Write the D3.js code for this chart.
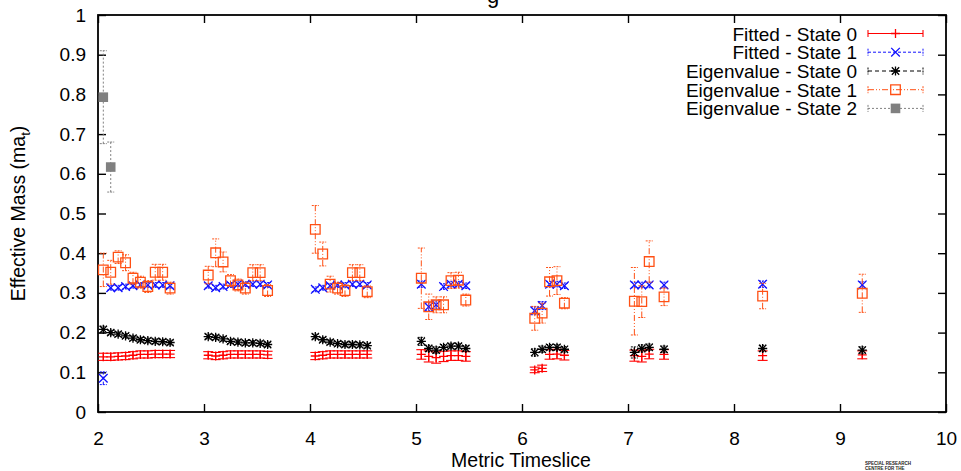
<!DOCTYPE html>
<html>
<head>
<meta charset="utf-8">
<script src="https://cdn.jsdelivr.net/npm/d3@7"></script>
<style>
  body { margin: 0; background: #fff; }
  svg { display: block; font-family: "Liberation Sans", Arial, Helvetica, sans-serif; }
</style>
</head>
<body>
<svg id="chart" width="961" height="471"></svg>
<script>
// Axis ticks
const xTicks = [2, 3, 4, 5, 6, 7, 8, 9, 10];
const yTicks = [0, 0.1, 0.2, 0.3, 0.4, 0.5, 0.6, 0.7, 0.8, 0.9, 1];

// Timeslice positions shared by the four main series (fit windows offset within each t)
const tsMain = [
  2.05, 2.12, 2.19, 2.26, 2.33, 2.40, 2.47, 2.54, 2.61, 2.68,
  3.04, 3.11, 3.18, 3.25, 3.32, 3.39, 3.46, 3.53, 3.60,
  4.05, 4.12, 4.19, 4.26, 4.33, 4.40, 4.47, 4.54,
  5.05, 5.12, 5.19, 5.26, 5.33, 5.40, 5.47,
  6.12, 6.19, 6.26, 6.33, 6.40,
  7.06, 7.13, 7.20, 7.34,
  8.27,
  9.21
];

// Fitted - State 0
const fit0Mass = [
  0.139, 0.139, 0.140, 0.141, 0.143, 0.145, 0.145, 0.146, 0.146, 0.146,
  0.143, 0.141, 0.143, 0.145, 0.145, 0.145, 0.145, 0.145, 0.144,
  0.141, 0.143, 0.145, 0.145, 0.145, 0.145, 0.145, 0.145,
  0.145, 0.140, 0.137, 0.140, 0.142, 0.142, 0.140,
  0.106, 0.110, 0.145, 0.146, 0.143,
  0.142, 0.140, 0.146, 0.145,
  0.142,
  0.144
];
const fit0Err = [
  0.009, 0.009, 0.009, 0.009, 0.009, 0.009, 0.009, 0.009, 0.009, 0.009,
  0.009, 0.009, 0.009, 0.009, 0.009, 0.009, 0.009, 0.009, 0.009,
  0.009, 0.009, 0.009, 0.009, 0.009, 0.009, 0.009, 0.009,
  0.012, 0.014, 0.014, 0.013, 0.012, 0.012, 0.012,
  0.007, 0.008, 0.012, 0.012, 0.012,
  0.014, 0.014, 0.012, 0.012,
  0.012,
  0.010
];

// Fitted - State 1
const fit1Mass = [
  0.085, 0.313, 0.313, 0.316, 0.318, 0.320, 0.320, 0.320, 0.320, 0.318,
  0.318, 0.313, 0.316, 0.320, 0.322, 0.322, 0.322, 0.322, 0.320,
  0.309, 0.313, 0.318, 0.320, 0.320, 0.322, 0.322, 0.320,
  0.322, 0.265, 0.270, 0.316, 0.322, 0.322, 0.318,
  0.255, 0.268, 0.322, 0.322, 0.318,
  0.320, 0.320, 0.320, 0.320,
  0.322,
  0.320
];
const fit1Err = [
  0.016, 0.006, 0.006, 0.006, 0.006, 0.006, 0.006, 0.006, 0.006, 0.006,
  0.006, 0.006, 0.006, 0.006, 0.006, 0.006, 0.006, 0.006, 0.006,
  0.006, 0.006, 0.006, 0.006, 0.006, 0.006, 0.006, 0.006,
  0.008, 0.010, 0.010, 0.007, 0.007, 0.007, 0.007,
  0.010, 0.010, 0.007, 0.007, 0.007,
  0.007, 0.007, 0.007, 0.007,
  0.008,
  0.008
];

// Eigenvalue - State 0
const eig0Mass = [
  0.208, 0.200, 0.196, 0.192, 0.186, 0.182, 0.180, 0.178, 0.177, 0.175,
  0.190, 0.188, 0.184, 0.178, 0.176, 0.174, 0.174, 0.173, 0.170,
  0.190, 0.182, 0.176, 0.172, 0.170, 0.170, 0.169, 0.167,
  0.178, 0.160, 0.156, 0.163, 0.166, 0.166, 0.160,
  0.150, 0.158, 0.163, 0.163, 0.158,
  0.150, 0.160, 0.163, 0.158,
  0.160,
  0.156
];
const eig0Err = [
  0.008, 0.006, 0.006, 0.006, 0.006, 0.006, 0.006, 0.006, 0.006, 0.006,
  0.006, 0.006, 0.006, 0.006, 0.006, 0.006, 0.006, 0.006, 0.006,
  0.006, 0.006, 0.006, 0.006, 0.006, 0.006, 0.006, 0.006,
  0.010, 0.008, 0.008, 0.007, 0.007, 0.007, 0.007,
  0.009, 0.008, 0.007, 0.007, 0.007,
  0.014, 0.009, 0.008, 0.008,
  0.008,
  0.008
];

// Eigenvalue - State 1
const eig1Mass = [
  0.358, 0.352, 0.390, 0.376, 0.337, 0.327, 0.316, 0.352, 0.352, 0.312,
  0.345, 0.401, 0.378, 0.331, 0.320, 0.312, 0.351, 0.351, 0.306,
  0.460, 0.398, 0.322, 0.312, 0.306, 0.351, 0.351, 0.303,
  0.337, 0.265, 0.270, 0.270, 0.331, 0.332, 0.282,
  0.236, 0.249, 0.328, 0.331, 0.274,
  0.279, 0.278, 0.379, 0.290,
  0.292,
  0.299
];
const eig1Err = [
  0.042, 0.030, 0.016, 0.020, 0.015, 0.015, 0.015, 0.020, 0.020, 0.015,
  0.022, 0.035, 0.025, 0.015, 0.015, 0.015, 0.020, 0.020, 0.015,
  0.060, 0.030, 0.020, 0.015, 0.015, 0.020, 0.020, 0.015,
  0.076, 0.032, 0.020, 0.020, 0.020, 0.020, 0.015,
  0.030, 0.025, 0.036, 0.035, 0.014,
  0.085, 0.040, 0.052, 0.022,
  0.032,
  0.048
];

// Eigenvalue - State 2
const tsState2 = [2.05, 2.12];
const eig2Mass = [0.793, 0.617];
const eig2Err = [0.117, 0.063];

const svg = d3.select("#chart");
const plot = { left: 98, right: 946, top: 15, bottom: 412 };
const FONT = 19;

const x = d3.scaleLinear().domain([2, 10]).range([plot.left, plot.right]);
const y = d3.scaleLinear().domain([0, 1]).range([plot.bottom, plot.top]);

// Marker shapes in the gnuplot manner
const markers = {
  plus: s => `M${-s},0H${s}M0,${-s}V${s}`,
  cross: s => `M${-s},${-s}L${s},${s}M${-s},${s}L${s},${-s}`,
  star: s => `M${-s},0H${s}M0,${-s}V${s}M${-s*0.8},${-s*0.8}L${s*0.8},${s*0.8}M${-s*0.8},${s*0.8}L${s*0.8},${-s*0.8}`,
  box: s => `M${-s},${-s}H${s}V${s}H${-s}Z`,
  fbox: s => `M${-s},${-s}H${s}V${s}H${-s}Z`
};

const series = [
  { name: "Fitted - State 0", xs: tsMain, ys: fit0Mass, es: fit0Err, color: "#ff0000",
    dash: null, marker: "plus", size: 4.5, cap: 5, width: 1.1, fill: false },
  { name: "Fitted - State 1", xs: tsMain, ys: fit1Mass, es: fit1Err, color: "#1010ff",
    dash: "3,2", marker: "cross", size: 4.3, cap: 3.5, width: 1, fill: false },
  { name: "Eigenvalue - State 0", xs: tsMain, ys: eig0Mass, es: eig0Err, color: "#000000",
    dash: "4,3", marker: "star", size: 4.6, cap: 3.5, width: 1, fill: false },
  { name: "Eigenvalue - State 1", xs: tsMain, ys: eig1Mass, es: eig1Err, color: "#ff5014",
    dash: "6,2,1,2,1,2", marker: "box", size: 4.8, cap: 3.5, width: 1, fill: false },
  { name: "Eigenvalue - State 2", xs: tsState2, ys: eig2Mass, es: eig2Err, color: "#808080",
    dash: "2,2", marker: "fbox", size: 4.8, cap: 3.5, width: 1, fill: true }
];

// Title (sits mostly above the visible page)
svg.append("text")
  .attr("x", 493).attr("y", 3)
  .attr("text-anchor", "middle")
  .attr("font-size", 22)
  .attr("fill", "#000")
  .text("g");

// Frame
svg.append("rect")
  .attr("x", plot.left).attr("y", plot.top)
  .attr("width", plot.right - plot.left).attr("height", plot.bottom - plot.top)
  .attr("fill", "none").attr("stroke", "#000").attr("stroke-width", 1.8);

// Axes with inward ticks on all four sides
const tickLen = 8;
const xAxisB = d3.axisBottom(x).tickValues(xTicks).tickSize(-tickLen).tickPadding(20).tickFormat(d3.format("d"));
const xAxisT = d3.axisTop(x).tickValues(xTicks).tickSize(-tickLen).tickFormat("");
const yAxisL = d3.axisLeft(y).tickValues(yTicks).tickSize(-tickLen).tickPadding(12)
  .tickFormat(d => d === 0 || d === 1 ? String(d) : d3.format(".1f")(d));
const yAxisR = d3.axisRight(y).tickValues(yTicks).tickSize(-tickLen).tickFormat("");

function styleAxis(g) {
  g.select(".domain").remove();
  g.selectAll(".tick line").attr("stroke", "#000").attr("stroke-width", 1.4);
  g.selectAll(".tick text").attr("font-size", FONT).attr("fill", "#000")
    .attr("font-family", "\"Liberation Sans\", Arial, sans-serif");
}
svg.append("g").attr("transform", `translate(0,${plot.bottom})`).call(xAxisB).call(styleAxis);
svg.append("g").attr("transform", `translate(0,${plot.top})`).call(xAxisT).call(styleAxis);
svg.append("g").attr("transform", `translate(${plot.left},0)`).call(yAxisL).call(styleAxis);
svg.append("g").attr("transform", `translate(${plot.right},0)`).call(yAxisR).call(styleAxis);

// Axis titles
svg.append("text")
  .attr("x", (plot.left + plot.right) / 2 - 1).attr("y", 467)
  .attr("text-anchor", "middle").attr("font-size", 19.5).attr("fill", "#000")
  .text("Metric Timeslice");

const yl = svg.append("text")
  .attr("transform", `translate(25,${(plot.top + plot.bottom) / 2}) rotate(-90)`)
  .attr("text-anchor", "middle").attr("font-size", 19.5).attr("fill", "#000");
yl.append("tspan").text("Effective Mass (ma");
yl.append("tspan").attr("font-size", 13).attr("dy", 5).text("t");
yl.append("tspan").attr("dy", -5).text(")");

// Error bars and markers
const dataLayer = svg.append("g");
series.forEach(s => {
  const g = dataLayer.append("g");
  const pts = s.xs.map((xv, i) => ({ x: xv, y: s.ys[i], e: s.es[i] }));
  const bars = g.selectAll("g.bar").data(pts).join("g").attr("class", "bar");
  bars.append("line")
    .attr("x1", d => x(d.x)).attr("x2", d => x(d.x))
    .attr("y1", d => y(d.y - d.e)).attr("y2", d => y(d.y + d.e))
    .attr("stroke", s.color).attr("stroke-width", s.width)
    .attr("stroke-dasharray", s.dash);
  [-1, 1].forEach(sign => {
    bars.append("line")
      .attr("x1", d => x(d.x) - s.cap).attr("x2", d => x(d.x) + s.cap)
      .attr("y1", d => y(d.y + sign * d.e)).attr("y2", d => y(d.y + sign * d.e))
      .attr("stroke", s.color).attr("stroke-width", s.width)
      .attr("stroke-dasharray", s.dash ? "2,1" : null);
  });
  g.selectAll("path.mk").data(pts).join("path").attr("class", "mk")
    .attr("transform", d => `translate(${x(d.x)},${y(d.y)})`)
    .attr("d", markers[s.marker](s.size))
    .attr("fill", s.fill ? s.color : "none")
    .attr("stroke", s.color)
    .attr("stroke-width", s.fill ? 0 : 1.3);
});

// Legend
const legend = svg.append("g");
const legRows = [33.5, 52.2, 71, 89.7, 108.4];
series.forEach((s, i) => {
  const ry = legRows[i];
  legend.append("text")
    .attr("x", 857).attr("y", ry + 7)
    .attr("text-anchor", "end").attr("font-size", FONT).attr("fill", "#000")
    .text(s.name);
  legend.append("line")
    .attr("x1", 868).attr("x2", 923).attr("y1", ry).attr("y2", ry)
    .attr("stroke", s.color).attr("stroke-width", s.width).attr("stroke-dasharray", s.dash);
  [868, 923].forEach(cx => {
    legend.append("line")
      .attr("x1", cx).attr("x2", cx).attr("y1", ry - 3.5).attr("y2", ry + 3.5)
      .attr("stroke", s.color).attr("stroke-width", s.width)
      .attr("stroke-dasharray", s.dash ? "2,1" : null);
  });
  legend.append("path")
    .attr("transform", `translate(895.5,${ry})`)
    .attr("d", markers[s.marker](s.size))
    .attr("fill", s.fill ? s.color : "none")
    .attr("stroke", s.color)
    .attr("stroke-width", s.fill ? 0 : 1.3);
});

// Small institutional mark
const mark = svg.append("g").attr("font-size", 4.5).attr("fill", "#222").attr("font-weight", "bold");
mark.append("text").attr("x", 865).attr("y", 464.5).text("SPECIAL RESEARCH");
mark.append("text").attr("x", 865).attr("y", 469.5).text("CENTRE FOR THE");
</script>
</body>
</html>
